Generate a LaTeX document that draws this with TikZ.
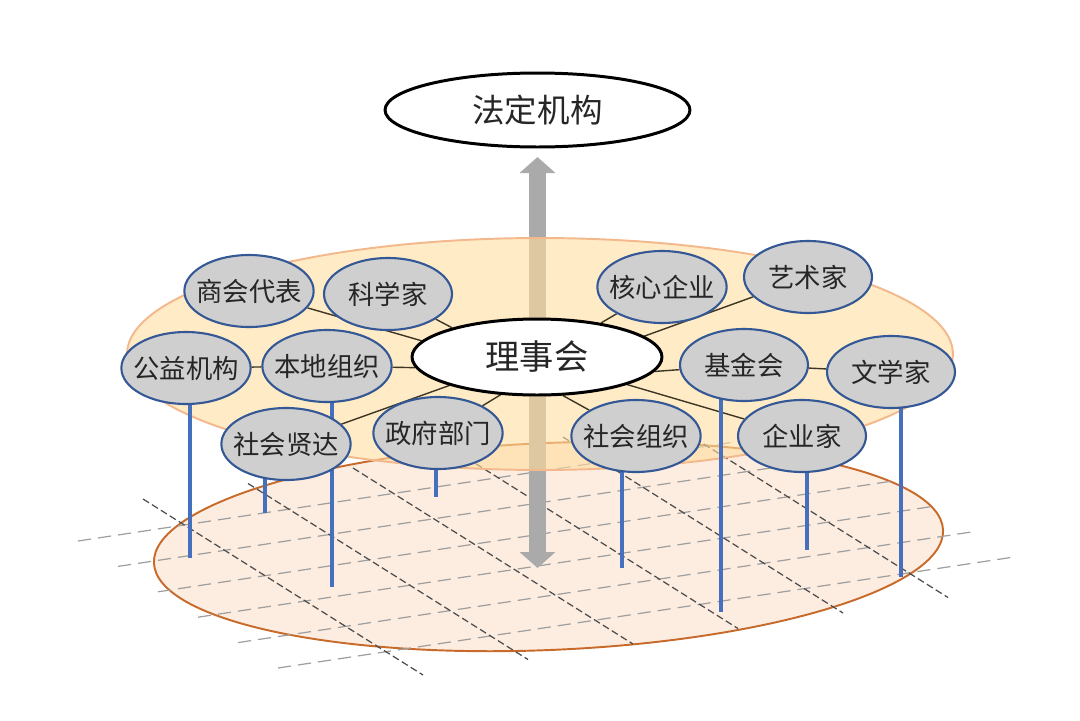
\documentclass[tikz,border=0pt]{standalone}
\usepackage{fontspec}
\setmainfont{Noto Sans CJK SC}
\usetikzlibrary{shapes,arrows.meta,backgrounds}

\definecolor{nodegray}{RGB}{207,207,207}
\definecolor{nodeblue}{RGB}{52,88,150}
\definecolor{poleblue}{RGB}{70,112,190}
\definecolor{upperfill}{RGB}{255,221,158}
\definecolor{upperline}{RGB}{243,184,140}
\definecolor{lowerfill}{RGB}{253,237,225}
\definecolor{lowerline}{RGB}{200,106,42}
\definecolor{linkbrown}{RGB}{62,54,36}
\definecolor{arrowgray}{RGB}{170,170,170}
\definecolor{textgray}{RGB}{38,38,38}

\begin{document}
\begin{tikzpicture}[x=0.02cm, y=-0.02cm,
        member/.style={draw=nodeblue, line width=1.2pt, fill=nodegray, ellipse, minimum width=2.56cm, minimum height=1.44cm, inner xsep=-0.14cm, inner ysep=0pt, text=textgray, font=\fontsize{15}{16}\selectfont},
        core/.style={draw=black, line width=1.7pt, fill=white, ellipse, inner sep=0pt, text=textgray, font=\fontsize{18.5}{20}\selectfont},
        link/.style={draw=linkbrown, line width=0.8pt},
        pole/.style={draw=poleblue, line width=1.8pt},
        gridA/.style={draw=gray!75, line width=0.7pt, dash pattern=on 7.5pt off 4pt},
        gridB/.style={draw=black!70, line width=0.7pt, dash pattern=on 4pt off 2pt}]
        \useasboundingbox (0,0) rectangle (1080,721);

        % Top and centre
        \node[core, minimum width=6.1cm, minimum height=1.48cm] (fdjg) at (537.5,110) {法定机构};
        \node[core, minimum width=5.0cm, minimum height=1.52cm, font=\fontsize{19.5}{21}\selectfont] (lsh) at (537,357) {理事会};

        % Members, left side
        \node[member] (shdb) at (249,291) {商会代表};
        \node[member] (kxj) at (388,294) {科学家};
        \node[member] (gyjg) at (186,368) {公益机构};
        \node[member] (bdzz) at (327,366) {本地组织};
        \node[member] (shxd) at (286,444) {社会贤达};
        \node[member] (zfbm) at (438,433) {政府部门};

        % Members, right side
        \node[member] (hxqy) at (662,287) {核心企业};
        \node[member] (ysj) at (808,277) {艺术家};
        \node[member] (jjh) at (744,365) {基金会};
        \node[member] (wxj) at (891,372) {文学家};
        \node[member] (shzz) at (636,436) {社会组织};
        \node[member] (qyj) at (802,436) {企业家};

        \begin{scope}[on background layer]
            % Lower disk and its grid
            \draw[fill=lowerfill, draw=lowerline, line width=1.1pt, rotate around={2.4:(548.5,546.5)}] (548.5,546.5) ellipse [x radius=7.9cm, y radius=2.07cm];
            \foreach \k in {0,...,5}
                \draw[gridA] (78+40*\k, 541+25.4*\k) -- ++(736,-111);
            \foreach \k in {0,...,5}
                \draw[gridB] (143+105*\k, 499-15.5*\k) -- ++(280,176);

            % Double arrow
            \coordinate (down) at (537.5,568);
            \coordinate (up) at (537.5,157);
            \draw[arrowgray, line width=0.34cm, {Triangle[length=0.32cm, width=0.7cm]}-{Triangle[length=0.32cm, width=0.7cm]}] (down) -- (up);

            % Upper disk
            \draw[fill=upperfill, fill opacity=0.6, draw=upperline, line width=1.1pt] (540,354) ellipse [x radius=8.26cm, y radius=2.32cm];

            % Links to the council
            \draw[link] (lsh.172.7) -- (shdb);
            \draw[link] (lsh.161.4) -- (kxj);
            \draw[link] (lsh.185) -- (bdzz);
            \draw[link] (lsh.198.4) -- (shxd);
            \draw[link] (lsh.226) -- (zfbm);
            \draw[link] (lsh.28) -- (hxqy);
            \draw[link] (lsh.11.8) -- (ysj);
            \draw[link] (lsh.353.6) -- (jjh);
            \draw[link] (lsh.343) -- (qyj);
            \draw[link] (lsh.304.4) -- (shzz);
            \draw[link] (gyjg) -- (bdzz);
            \draw[link] (jjh) -- (wxj);

            % Poles down to the lower disk
            \foreach \n/\dx/\len in {gyjg/4/190, shxd/-21/69, bdzz/5/221, zfbm/-2/64, shzz/-14/132, jjh/-23/247, qyj/5/114, wxj/10/205}
                \draw[pole] ([xshift=\dx*0.02cm]\n.center) -- ++(0,\len);
        \end{scope}
    \end{tikzpicture}
\end{document}
